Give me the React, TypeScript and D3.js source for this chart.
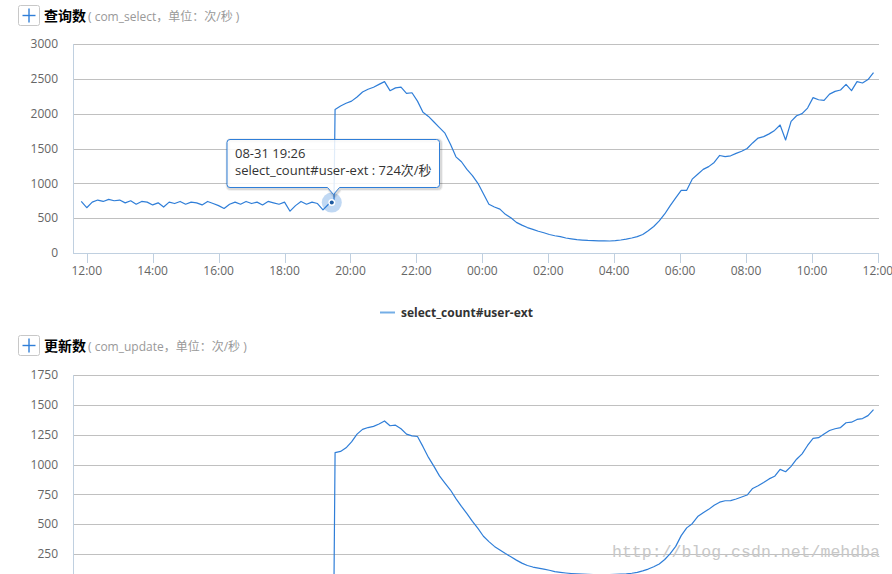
import React from "react";
import * as d3 from "d3";

// ---------- data ----------
const domainStart = "08-31 11:35";
const domainEnd = "09-01 12:02";
const tickTimes = [
  "08-31 12:00", "08-31 14:00", "08-31 16:00", "08-31 18:00", "08-31 20:00", "08-31 22:00",
  "09-01 00:00", "09-01 02:00", "09-01 04:00", "09-01 06:00", "09-01 08:00", "09-01 10:00", "09-01 12:00",
];
const selectTicks = [0, 500, 1000, 1500, 2000, 2500, 3000];
const updateTicks = [250, 500, 750, 1000, 1250, 1500, 1750];

const stepMinutes = 10;
const beforeStart = "08-31 11:50"; // 10-minute samples up to 19:30
const afterStart = "08-31 19:32"; // 10-minute samples up to 11:52 next day

const selectBefore = [
  740, 650, 730, 760, 740, 770, 750, 760, 720, 750,
  700, 740, 730, 690, 720, 660, 730, 710, 740, 700,
  730, 720, 690, 740, 710, 680, 640, 700, 730, 700,
  740, 710, 730, 690, 740, 720, 700, 730, 600, 680,
  740, 700, 730, 710, 620, 700, 740,
];
const selectAfter = [
  2060, 2110, 2150, 2180, 2240, 2310, 2350, 2380, 2420, 2460,
  2330, 2370, 2380, 2290, 2300, 2180, 2020, 1960, 1880, 1800,
  1720, 1560, 1380, 1310, 1200, 1110, 1000, 850, 700, 660,
  630, 555, 505, 440, 400, 365, 340, 312, 290, 265,
  248, 235, 215, 203, 192, 186, 180, 177, 175, 173,
  172, 178, 187, 200, 215, 235, 265, 320, 380, 460,
  560, 680, 790, 900, 900, 1060, 1130, 1200, 1240, 1300,
  1400, 1383, 1395, 1430, 1460, 1500, 1580, 1650, 1670, 1710,
  1760, 1837, 1622, 1890, 1970, 2000, 2080, 2230, 2200, 2190,
  2280, 2320, 2340, 2420, 2330, 2460, 2440, 2490, 2590,
];
const updateBefore = [
  0, 0, 0, 0, 0, 0, 0, 0, 0, 0,
  0, 0, 0, 0, 0, 0, 0, 0, 0, 0,
  0, 0, 0, 0, 0, 0, 0, 0, 0, 0,
  0, 0, 0, 0, 0, 0, 0, 0, 0, 0,
  0, 0, 0, 0, 0, 0, 0,
];
const updateAfter = [
  1100, 1110, 1140, 1190, 1255, 1295, 1310, 1320, 1340, 1365,
  1325, 1330, 1300, 1255, 1240, 1235, 1150, 1060, 985, 905,
  845, 787, 715, 650, 590, 525, 465, 400, 355, 315,
  285, 255, 228, 200, 175, 155, 142, 133, 125, 115,
  103, 97, 92, 88, 85, 82, 80, 79, 78, 78,
  79, 80, 82, 85, 90, 98, 110, 125, 145, 168,
  205, 255, 315, 405, 470, 505, 565, 597, 625, 660,
  685, 697, 698, 712, 728, 745, 800, 822, 850, 880,
  902, 960, 940, 985, 1045, 1090, 1160, 1220, 1225, 1255,
  1285, 1300, 1310, 1350, 1355, 1378, 1385, 1410, 1460,
];

const seriesName = "select_count#user-ext";
const tooltipTime = "08-31 19:26";
const tooltipValue = 724;
const unit = "次/秒";

// ---------- helpers ----------
const parse = d3.timeParse("%m-%d %H:%M");
const fmtTick = d3.timeFormat("%H:%M");
type Pt = { t: Date; v: number };
function segment(start: string, values: number[]): Pt[] {
  const t0 = (parse(start) as Date).getTime();
  return values.map((v, i) => ({ t: new Date(t0 + i * stepMinutes * 60000), v }));
}

const LEFT = 73;
const RIGHT = 879;
const BLUE = "#2f7ed8";
const AXIS = "#c0d0e0";
const GRID = "#c0c0c0";
const FONT = "'Open Sans', 'Noto Sans CJK SC', sans-serif";

const x = d3
  .scaleTime()
  .domain([parse(domainStart) as Date, parse(domainEnd) as Date])
  .range([LEFT, RIGHT]);

type PanelProps = {
  title: string;
  subtitle: string;
  top: number;
  y: d3.ScaleLinear<number, number>;
  ticks: number[];
  data: Pt[];
  xAxis: boolean;
};

function Panel({ title, subtitle, top, y, ticks, data, xAxis }: PanelProps) {
  const line = d3
    .line<Pt>()
    .x((d) => x(d.t))
    .y((d) => y(d.v));
  const [y0, y1] = y.range();
  const cx = 29;
  const cy = top + 10.5;
  return (
    <g>
      <rect x={18.5} y={top + 0.5} width={21} height={20} rx={2} fill="#fff" stroke="#c8c8c8" />
      <line x1={cx - 6.5} x2={cx + 6.5} y1={cy} y2={cy} stroke={BLUE} strokeWidth={1.4} />
      <line x1={cx} x2={cx} y1={cy - 7} y2={cy + 7} stroke={BLUE} strokeWidth={1.4} />
      <text x={44} y={top + 16} fontFamily={FONT}>
        <tspan fontSize={14} fontWeight="bold" fill="#000">{title}</tspan>
        <tspan dx={2} fontSize={12} fill="#999">{subtitle}</tspan>
      </text>
      {ticks.map((t) =>
        t === 0 && xAxis ? null : (
          <line key={"g" + t} x1={LEFT} x2={RIGHT} y1={Math.round(y(t)) + 0.5} y2={Math.round(y(t)) + 0.5} stroke={GRID} />
        )
      )}
      {ticks.map((t) => (
        <text key={"l" + t} x={58} y={y(t)} dy="0.35em" textAnchor="end" fontSize={12} fill="#666" fontFamily={FONT}>
          {t}
        </text>
      ))}
      <line x1={LEFT + 0.5} x2={LEFT + 0.5} y1={y1} y2={y0} stroke={AXIS} />
      {xAxis && (
        <g>
          <line x1={LEFT} x2={RIGHT} y1={Math.round(y0) + 0.5} y2={Math.round(y0) + 0.5} stroke={AXIS} />
          {tickTimes.map((s) => {
            const d = parse(s) as Date;
            const px = Math.round(x(d)) + 0.5;
            return (
              <g key={s}>
                <line x1={px} x2={px} y1={y0} y2={y0 + 10} stroke={AXIS} />
                <text x={x(d)} y={y0 + 21.5} textAnchor="middle" fontSize={12} fill="#666" fontFamily={FONT}>
                  {fmtTick(d)}
                </text>
              </g>
            );
          })}
        </g>
      )}
      <path d={line(data) || ""} fill="none" stroke={BLUE} strokeWidth={1.2} strokeLinejoin="round" />
    </g>
  );
}

export default function App() {
  const yTop = d3.scaleLinear().domain([0, 3000]).range([253, 44]);
  const yBot = d3.scaleLinear().domain([0, 1750]).range([584, 375]);
  const selectData = [...segment(beforeStart, selectBefore), ...segment(afterStart, selectAfter)];
  const updateData = [...segment(beforeStart, updateBefore), ...segment(afterStart, updateAfter)];

  const tt = parse(tooltipTime) as Date;
  const mx = x(tt);
  const my = yTop(tooltipValue);

  // tooltip box
  const bl = 227, br = 439.5, bt = 139.5, bb = 187.5, r = 3;
  const caretX = 333.5;
  const box = `M${bl + r},${bt} H${br - r} Q${br},${bt} ${br},${bt + r} V${bb - r} Q${br},${bb} ${br - r},${bb} H${caretX + 6} L${caretX},${bb + 7} L${caretX - 6},${bb} H${bl + r} Q${bl},${bb} ${bl},${bb - r} V${bt + r} Q${bl},${bt} ${bl + r},${bt} Z`;

  return (
    <svg
      width={892}
      height={574}
      style={{ position: "absolute", left: 0, top: 0, background: "#fff" }}
    >
      <rect width={892} height={574} fill="#fff" />
      <Panel
        title="查询数"
        subtitle="( com_select，单位：次/秒 )"
        top={5}
        y={yTop}
        ticks={selectTicks}
        data={selectData}
        xAxis={true}
      />
      {/* legend */}
      <line x1={380} x2={395} y1={312.5} y2={312.5} stroke="#74aee6" strokeWidth={2} />
      <text x={401} y={316.5} fontSize={12} fontWeight="bold" fill="#333" fontFamily={FONT}>
        {seriesName}
      </text>
      <Panel
        title="更新数"
        subtitle="( com_update，单位：次/秒 )"
        top={335}
        y={yBot}
        ticks={updateTicks}
        data={updateData}
        xAxis={false}
      />
      {/* hover marker */}
      <circle cx={mx} cy={my} r={10} fill={BLUE} opacity={0.3} />
      <circle cx={mx} cy={my} r={3.5} fill="#fff" />
      <circle cx={mx} cy={my} r={2} fill="#1d5aa0" />
      {/* tooltip */}
      <path d={box} transform="translate(1,1)" fill="none" stroke="#000" strokeOpacity={0.05} strokeWidth={5} />
      <path d={box} transform="translate(1,1)" fill="none" stroke="#000" strokeOpacity={0.1} strokeWidth={3} />
      <path d={box} fill="rgba(255,255,255,0.85)" stroke={BLUE} strokeWidth={1} />
      <text x={235} y={158} fontSize={13} fill="#333" fontFamily={FONT}>
        {d3.timeFormat("%m-%d %H:%M")(tt)}
      </text>
      <text x={235} y={175} fontSize={13} fill="#333" fontFamily={FONT}>
        {`${seriesName} : ${tooltipValue}${unit}`}
      </text>
      {/* watermark */}
      <text x={612} y={557} fontSize={16.5} fill="#c8c8c8" fontFamily="'Liberation Mono', monospace" textLength={268}>
        http://blog.csdn.net/mehdba
      </text>
    </svg>
  );
}
